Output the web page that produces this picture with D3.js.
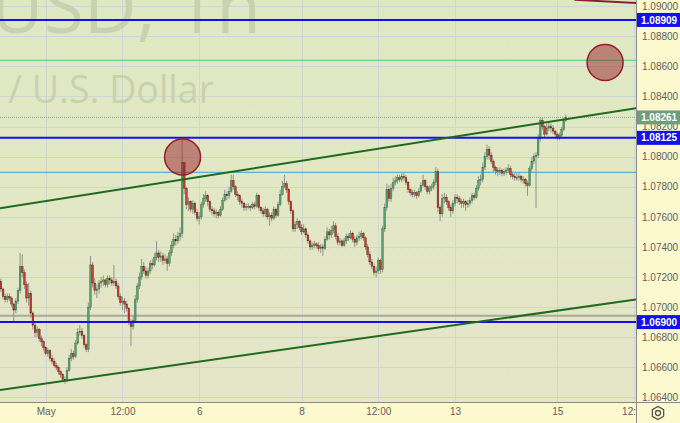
<!DOCTYPE html>
<html>
<head>
<meta charset="utf-8">
<script src="https://cdn.jsdelivr.net/npm/d3@7"></script>
<style>
  body { margin: 0; background: #fdf9cf; }
  svg { display: block; }
  .axis text { font-family: "Liberation Sans", Arial, sans-serif; font-size: 10px; fill: #606060; }
  .axis path { display: none; }
</style>
</head>
<body>
<div id="chart"></div>
<script>
// EUR/USD 1h candles (open = previous close)
const startPrice = 1.0717;

const closes = [
  1.0712,1.0707,1.0705,1.0707,1.0706,1.0702,1.0698,1.0704,1.0711,1.0727,
  1.0723,1.0715,1.0706,1.0709,1.0696,1.0688,1.0683,1.0685,1.0679,1.0677,
  1.0673,1.0669,1.0671,1.0666,1.0664,1.0661,1.0660,1.0657,1.0655,1.0652,
  1.0651,1.0658,1.0666,1.0669,1.0667,1.0676,1.0683,1.0684,1.0681,1.0675,
  1.0672,1.0700,1.0728,1.0716,1.0711,1.0712,1.0716,1.0717,1.0718,1.0715,
  1.0719,1.0718,1.0716,1.0717,1.0714,1.0707,1.0703,1.0704,1.0702,1.0699,
  1.0690,1.0687,1.0691,1.0705,1.0714,1.0720,1.0727,1.0724,1.0721,1.0724,
  1.0729,1.0728,1.0733,1.0736,1.0733,1.0734,1.0731,1.0732,1.0729,1.0736,
  1.0741,1.0745,1.0744,1.0747,1.0749,1.0796,1.0779,1.0768,1.0770,1.0765,
  1.0769,1.0763,1.0759,1.0760,1.0768,1.0772,1.0774,1.0770,1.0765,1.0764,
  1.0762,1.0763,1.0761,1.0765,1.0771,1.0775,1.0774,1.0777,1.0784,1.0780,
  1.0775,1.0774,1.0770,1.0769,1.0766,1.0767,1.0767,1.0766,1.0768,1.0767,
  1.0774,1.0766,1.0764,1.0762,1.0765,1.0760,1.0761,1.0759,1.0765,1.0761,
  1.0768,1.0775,1.0780,1.0782,1.0778,1.0770,1.0764,1.0752,1.0755,1.0757,
  1.0753,1.0750,1.0752,1.0748,1.0744,1.0740,1.0741,1.0742,1.0741,1.0739,
  1.0740,1.0739,1.0745,1.0750,1.0748,1.0751,1.0754,1.0747,1.0743,1.0744,
  1.0741,1.0744,1.0747,1.0746,1.0749,1.0745,1.0743,1.0746,1.0747,1.0749,
  1.0746,1.0740,1.0735,1.0730,1.0727,1.0723,1.0724,1.0731,1.0725,1.0752,
  1.0766,1.0778,1.0772,1.0779,1.0783,1.0784,1.0786,1.0785,1.0787,1.0786,
  1.0783,1.0778,1.0776,1.0775,1.0776,1.0774,1.0777,1.0781,1.0784,1.0780,
  1.0777,1.0779,1.0780,1.0783,1.0790,1.0766,1.0762,1.0772,1.0773,1.0770,
  1.0766,1.0764,1.0769,1.0773,1.0772,1.0770,1.0769,1.0770,1.0768,1.0769,
  1.0771,1.0774,1.0773,1.0779,1.0784,1.0785,1.0793,1.0800,1.0805,1.0801,
  1.0797,1.0793,1.0791,1.0790,1.0791,1.0789,1.0790,1.0791,1.0792,1.0788,
  1.0787,1.0786,1.0786,1.0787,1.0785,1.0785,1.0782,1.0781,1.0792,1.0797,
  1.0800,1.0801,1.0812,1.0824,1.0820,1.0815,1.0819,1.0820,1.0819,1.0817,
  1.0815,1.0813,1.0814,1.0818,1.0824,1.08261
];

const highs = [
  1.0719,1.0713,1.0709,1.0709,1.0709,1.0707,1.0703,1.0706,1.0713,1.0736,
  1.0735,1.0725,1.0717,1.0716,1.0711,1.0697,1.0690,1.0687,1.0686,1.0681,
  1.0678,1.0674,1.0673,1.0672,1.0668,1.0666,1.0663,1.0661,1.0658,1.0656,
  1.0654,1.0660,1.0668,1.0672,1.0671,1.0678,1.0686,1.0688,1.0686,1.0682,
  1.0676,1.0703,1.0734,1.0730,1.0719,1.0715,1.0718,1.0720,1.0721,1.0719,
  1.0721,1.0721,1.0720,1.0728,1.0719,1.0716,1.0709,1.0707,1.0706,1.0704,
  1.0700,1.0692,1.0694,1.0708,1.0716,1.0723,1.0732,1.0730,1.0727,1.0726,
  1.0731,1.0732,1.0736,1.0744,1.0738,1.0737,1.0736,1.0735,1.0734,1.0738,
  1.0744,1.0749,1.0748,1.0750,1.0753,1.0812,1.0791,1.0780,1.0773,1.0771,
  1.0771,1.0770,1.0765,1.0763,1.0770,1.0775,1.0777,1.0775,1.0771,1.0767,
  1.0766,1.0765,1.0764,1.0767,1.0773,1.0778,1.0777,1.0780,1.0788,1.0788,
  1.0781,1.0777,1.0775,1.0772,1.0770,1.0769,1.0769,1.0768,1.0770,1.0770,
  1.0776,1.0775,1.0767,1.0766,1.0767,1.0766,1.0763,1.0763,1.0767,1.0766,
  1.0770,1.0778,1.0784,1.0788,1.0784,1.0779,1.0771,1.0765,1.0757,1.0759,
  1.0758,1.0755,1.0755,1.0753,1.0749,1.0745,1.0743,1.0744,1.0743,1.0743,
  1.0742,1.0742,1.0747,1.0753,1.0752,1.0754,1.0757,1.0756,1.0749,1.0746,
  1.0745,1.0746,1.0749,1.0749,1.0751,1.0750,1.0747,1.0748,1.0750,1.0751,
  1.0750,1.0747,1.0742,1.0737,1.0732,1.0729,1.0727,1.0733,1.0732,1.0754,
  1.0769,1.0782,1.0781,1.0782,1.0786,1.0787,1.0788,1.0788,1.0789,1.0789,
  1.0788,1.0784,1.0779,1.0778,1.0778,1.0777,1.0779,1.0783,1.0788,1.0785,
  1.0781,1.0781,1.0782,1.0785,1.0793,1.0792,1.0768,1.0775,1.0776,1.0775,
  1.0771,1.0768,1.0771,1.0775,1.0775,1.0774,1.0772,1.0772,1.0771,1.0771,
  1.0773,1.0776,1.0776,1.0781,1.0787,1.0788,1.0796,1.0803,1.0808,1.0807,
  1.0803,1.0798,1.0794,1.0793,1.0793,1.0792,1.0792,1.0793,1.0795,1.0794,
  1.0790,1.0789,1.0789,1.0789,1.0788,1.0787,1.0786,1.0784,1.0794,1.0800,
  1.0802,1.0803,1.0815,1.0826,1.0826,1.0821,1.0822,1.0823,1.0822,1.0821,
  1.0818,1.0816,1.0816,1.0820,1.0826,1.0828
];

const lows = [
  1.0710,1.0705,1.0703,1.0703,1.0704,1.0700,1.0690,1.0696,1.0702,1.0709,
  1.0720,1.0712,1.0703,1.0701,1.0693,1.0685,1.0680,1.0680,1.0677,1.0674,
  1.0671,1.0668,1.0667,1.0664,1.0662,1.0660,1.0658,1.0655,1.0653,1.0651,
  1.0649,1.0650,1.0657,1.0664,1.0665,1.0666,1.0675,1.0681,1.0679,1.0673,
  1.0670,1.0670,1.0698,1.0713,1.0708,1.0706,1.0709,1.0713,1.0714,1.0713,
  1.0713,1.0715,1.0714,1.0714,1.0712,1.0705,1.0701,1.0698,1.0696,1.0697,
  1.0688,1.0674,1.0685,1.0690,1.0703,1.0712,1.0718,1.0722,1.0719,1.0719,
  1.0722,1.0725,1.0727,1.0731,1.0730,1.0730,1.0728,1.0729,1.0724,1.0727,
  1.0734,1.0739,1.0741,1.0742,1.0744,1.0746,1.0775,1.0765,1.0764,1.0763,
  1.0762,1.0761,1.0757,1.0755,1.0758,1.0766,1.0770,1.0767,1.0763,1.0761,
  1.0760,1.0759,1.0759,1.0760,1.0764,1.0770,1.0771,1.0772,1.0776,1.0778,
  1.0773,1.0771,1.0768,1.0766,1.0764,1.0764,1.0765,1.0764,1.0765,1.0765,
  1.0766,1.0764,1.0762,1.0760,1.0760,1.0758,1.0754,1.0757,1.0758,1.0759,
  1.0760,1.0767,1.0774,1.0779,1.0776,1.0768,1.0762,1.0750,1.0750,1.0752,
  1.0751,1.0748,1.0749,1.0746,1.0742,1.0738,1.0738,1.0739,1.0739,1.0737,
  1.0736,1.0734,1.0738,1.0744,1.0745,1.0746,1.0749,1.0745,1.0741,1.0741,
  1.0740,1.0740,1.0742,1.0744,1.0745,1.0743,1.0740,1.0741,1.0744,1.0745,
  1.0744,1.0738,1.0733,1.0728,1.0725,1.0721,1.0720,1.0722,1.0722,1.0723,
  1.0750,1.0764,1.0770,1.0770,1.0777,1.0781,1.0782,1.0783,1.0783,1.0784,
  1.0781,1.0776,1.0774,1.0773,1.0773,1.0772,1.0773,1.0776,1.0780,1.0778,
  1.0775,1.0775,1.0777,1.0778,1.0781,1.0763,1.0757,1.0760,1.0769,1.0768,
  1.0764,1.0760,1.0762,1.0767,1.0769,1.0768,1.0766,1.0766,1.0764,1.0766,
  1.0767,1.0769,1.0771,1.0772,1.0777,1.0781,1.0783,1.0791,1.0798,1.0798,
  1.0795,1.0790,1.0788,1.0787,1.0788,1.0787,1.0787,1.0788,1.0789,1.0786,
  1.0785,1.0784,1.0784,1.0784,1.0783,1.0782,1.0780,1.0774,1.0780,1.0790,
  1.0795,1.0766,1.0799,1.0810,1.0818,1.0813,1.0814,1.0817,1.0816,1.0815,
  1.0813,1.0811,1.0811,1.0812,1.0817,1.0823
];

// axis ticks
const yTicks = [1.064,1.066,1.068,1.070,1.072,1.074,1.076,1.078,1.080,1.082,1.084,1.086,1.088,1.090];
const xTickBars = [21, 57, 93, 141, 177, 213, 261, 297];
const xTickLabels = ["May", "12:00", "6", "8", "12:00", "13", "15", "12:00"];

// drawn levels and tools
const blueLevels = [1.08909, 1.08125, 1.06900];
const tealLevel = 1.08641;
const skyLevel = 1.07896;
const greyLevel = 1.06943;
const upperChannel = [[0, 1.07658], [299, 1.08325]];
const lowerChannel = [[0, 1.06450], [299, 1.07053]];
const redTrend = [[269, 1.09043], [300, 1.09020]];
const circles = [[85.2, 1.07998], [283.4, 1.08626]];

// layout
const W = 680, H = 423;
const plotW = 636, plotH = 402;

const x = d3.scaleLinear().domain([-0.44, 297.9]).range([0, plotW]);
const y = d3.scaleLinear().domain([1.064, 1.090]).range([397.3, 6.26]);

const svg = d3.select("#chart").append("svg")
  .attr("width", W).attr("height", H);

const defs = svg.append("defs");
const grad = defs.append("linearGradient").attr("id", "bg")
  .attr("x1", 0).attr("y1", 0).attr("x2", 0).attr("y2", 1);
grad.append("stop").attr("offset", "0%").attr("stop-color", "#dfe9c1");
grad.append("stop").attr("offset", "100%").attr("stop-color", "#e5e5c8");
defs.append("clipPath").attr("id", "plotClip")
  .append("rect").attr("width", plotW).attr("height", plotH);
defs.append("clipPath").attr("id", "xClip")
  .append("rect").attr("width", plotW).attr("height", H);

// backgrounds
svg.append("rect").attr("width", W).attr("height", H).attr("fill", "#fdf9cf");
svg.append("rect").attr("width", plotW).attr("height", plotH).attr("fill", "url(#bg)");

const plot = svg.append("g").attr("clip-path", "url(#plotClip)");

// grid
plot.append("g")
  .selectAll("line").data(yTicks).join("line")
  .attr("x1", 0).attr("x2", plotW)
  .attr("y1", d => Math.round(y(d)) + 0.5).attr("y2", d => Math.round(y(d)) + 0.5)
  .attr("stroke", "#cdd7d6").attr("stroke-width", 1);
plot.append("g")
  .selectAll("line").data(xTickBars).join("line")
  .attr("y1", 0).attr("y2", plotH)
  .attr("x1", d => Math.round(x(d)) + 0.5).attr("x2", d => Math.round(x(d)) + 0.5)
  .attr("stroke", "#cdd7d6").attr("stroke-width", 1);

// watermark
plot.append("text")
  .attr("x", 261).attr("y", 33)
  .attr("text-anchor", "end")
  .attr("font-family", "Open Sans, sans-serif")
  .attr("font-size", 73)
  .attr("fill", "#c9d2ae")
  .text("EURUSD, 1h");
plot.append("text")
  .attr("x", 214).attr("y", 103)
  .attr("text-anchor", "end")
  .attr("font-family", "Open Sans, sans-serif")
  .attr("font-size", 37.5)
  .attr("fill", "#c9d2ae")
  .text("Euro / U.S. Dollar");

// horizontal levels below the candles
const lastClose = closes[closes.length - 1];
plot.append("line")
  .attr("x1", 0).attr("x2", plotW)
  .attr("y1", y(lastClose)).attr("y2", y(lastClose))
  .attr("stroke", "#8fa78f").attr("stroke-width", 1)
  .attr("stroke-dasharray", "1,1");
plot.append("line")
  .attr("x1", 0).attr("x2", plotW)
  .attr("y1", y(tealLevel)).attr("y2", y(tealLevel))
  .attr("stroke", "#3fd08e").attr("stroke-width", 1);
plot.append("line")
  .attr("x1", 0).attr("x2", plotW)
  .attr("y1", y(skyLevel)).attr("y2", y(skyLevel))
  .attr("stroke", "#3b9fdc").attr("stroke-width", 1);
plot.append("line")
  .attr("x1", 0).attr("x2", plotW)
  .attr("y1", y(greyLevel)).attr("y2", y(greyLevel))
  .attr("stroke", "#a9aa9c").attr("stroke-width", 2);

// candles
const bars = closes.map((c, i) => ({
  i, c,
  o: i === 0 ? startPrice : closes[i - 1],
  h: highs[i], l: lows[i]
}));
const bodyW = 1.7;

plot.append("g").selectAll("line").data(bars).join("line")
  .attr("x1", d => x(d.i)).attr("x2", d => x(d.i))
  .attr("y1", d => y(Math.max(d.h, d.o, d.c))).attr("y2", d => y(Math.min(d.l, d.o, d.c)))
  .attr("stroke", "#8e948a").attr("stroke-width", 1);

plot.append("g").selectAll("rect").data(bars).join("rect")
  .attr("x", d => x(d.i) - bodyW / 2)
  .attr("width", bodyW)
  .attr("y", d => y(Math.max(d.o, d.c)))
  .attr("height", d => Math.max(1, Math.abs(y(d.o) - y(d.c))))
  .attr("fill", d => d.c >= d.o ? "#5a9e70" : "#cc3a2c")
  .attr("stroke", d => d.c >= d.o ? "#356b48" : "#5e1c14")
  .attr("stroke-width", 0.4);

// blue levels
plot.append("g").selectAll("line").data(blueLevels).join("line")
  .attr("x1", 0).attr("x2", plotW)
  .attr("y1", d => y(d)).attr("y2", d => y(d))
  .attr("stroke", "#1010f0").attr("stroke-width", 2);

// channel and trend lines, extended across the pane
function extend(pts) {
  const [[b0, p0], [b1, p1]] = pts;
  const k = (p1 - p0) / (b1 - b0);
  const [d0, d1] = x.domain();
  return [[d0, p0 + k * (d0 - b0)], [d1, p0 + k * (d1 - b0)]];
}
const line = d3.line().x(d => x(d[0])).y(d => y(d[1]));
plot.append("path").attr("d", line(extend(upperChannel)))
  .attr("fill", "none").attr("stroke", "#1f6a1f").attr("stroke-width", 2);
plot.append("path").attr("d", line(extend(lowerChannel)))
  .attr("fill", "none").attr("stroke", "#1f6a1f").attr("stroke-width", 2);
plot.append("path").attr("d", line(redTrend))
  .attr("fill", "none").attr("stroke", "#8a1e2e").attr("stroke-width", 2);

// circles
plot.append("g").selectAll("circle").data(circles).join("circle")
  .attr("cx", d => x(d[0])).attr("cy", d => y(d[1]))
  .attr("r", 18)
  .attr("fill", "rgba(150,30,40,0.5)")
  .attr("stroke", "#9a1b2c").attr("stroke-width", 1.5);

// axes
svg.append("g").attr("class", "axis")
  .attr("transform", `translate(${plotW},0)`)
  .call(d3.axisRight(y).tickValues(yTicks).tickFormat(d3.format(".5f")).tickSize(0).tickPadding(6));

svg.append("g").attr("class", "axis")
  .attr("transform", `translate(0,${plotH})`)
  .attr("clip-path", "url(#xClip)")
  .call(d3.axisBottom(x).tickValues(xTickBars).tickFormat((d, i) => xTickLabels[i]).tickSize(0).tickPadding(6));

svg.append("line").attr("x1", plotW + 0.5).attr("x2", plotW + 0.5).attr("y1", 0).attr("y2", H)
  .attr("stroke", "#8a8a80");
svg.append("line").attr("x1", 0).attr("x2", W).attr("y1", plotH + 0.5).attr("y2", plotH + 0.5)
  .attr("stroke", "#8a8a80");

// price labels on the scale
function priceLabel(v, fill) {
  const g = svg.append("g").attr("transform", `translate(${plotW + 1},${y(v)})`);
  g.append("rect").attr("x", 0).attr("y", -7).attr("width", 43).attr("height", 14)
    .attr("fill", fill);
  g.append("text").attr("x", 4).attr("y", 3.6)
    .attr("font-family", "Liberation Sans, Arial, sans-serif")
    .attr("font-size", 10).attr("font-weight", "bold").attr("fill", "#fff")
    .text(d3.format(".5f")(v));
}
blueLevels.forEach(v => priceLabel(v, "#1010f0"));
priceLabel(lastClose, "#6f9e7e");

// settings gear
const gear = svg.append("g").attr("transform", "translate(658,413)");
gear.append("path")
  .attr("d", d3.line()(d3.range(7).map(k => [6.5 * Math.cos(k * Math.PI / 3 + Math.PI / 6), 6.5 * Math.sin(k * Math.PI / 3 + Math.PI / 6)])))
  .attr("fill", "none").attr("stroke", "#555").attr("stroke-width", 1.3);
gear.append("circle").attr("r", 2.5).attr("fill", "none").attr("stroke", "#555").attr("stroke-width", 1.3);
</script>
</body>
</html>
